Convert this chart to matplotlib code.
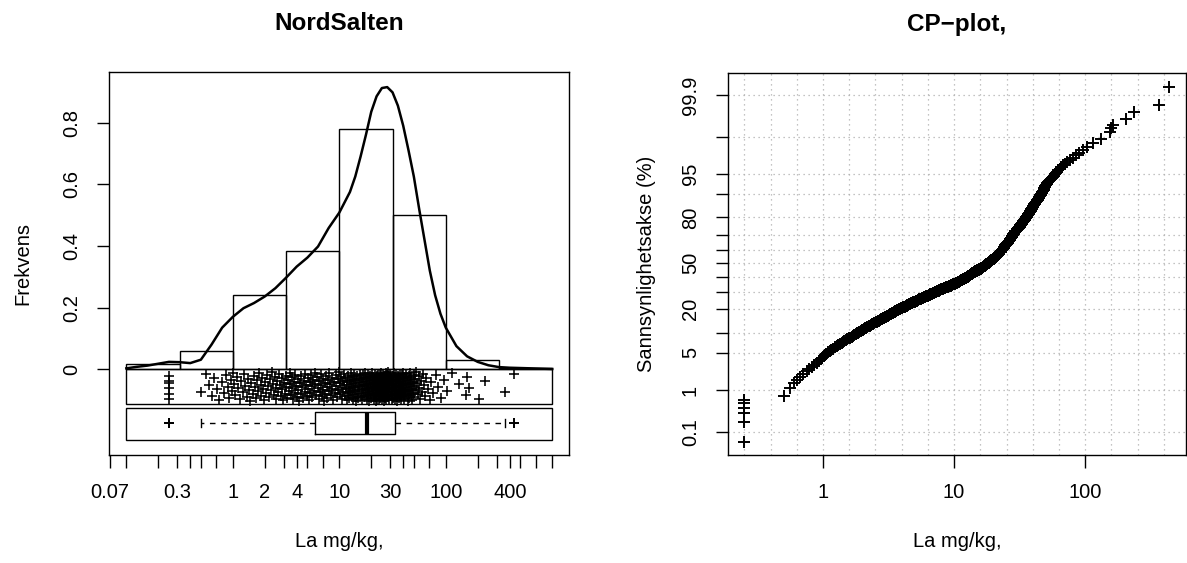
import matplotlib
matplotlib.use("Agg")
import matplotlib.pyplot as plt
from matplotlib.patches import Rectangle
import numpy as np
from statistics import NormalDist

plt.rcParams['font.family'] = ['Liberation Sans', 'DejaVu Sans']

# histogram, density scale, half-decade bins (mg/kg)
hist_edges = [0.1, 0.316, 1, 3.16, 10, 31.6, 100, 316, 1000]
hist_dens = [0.016, 0.059, 0.241, 0.384, 0.778, 0.499, 0.030, 0.004]

# density curve (x as log10 mg/kg)
dens_log10 = [-1.0, -0.9, -0.8, -0.7, -0.6, -0.5, -0.4, -0.3, -0.2, -0.1,
              0.0, 0.1, 0.2, 0.3, 0.4, 0.5, 0.6, 0.7, 0.8, 0.9,
              1.0, 1.1, 1.15, 1.2, 1.25, 1.3, 1.35, 1.4, 1.45, 1.5, 1.55, 1.6,
              1.65, 1.7, 1.75, 1.8, 1.85, 1.9, 1.95, 2.0, 2.1, 2.2, 2.3, 2.4, 2.5, 2.6,
              2.7, 2.8, 2.9, 3.0]
dens_y = [0.003, 0.008, 0.012, 0.018, 0.024, 0.023, 0.020, 0.031, 0.080, 0.135,
          0.170, 0.198, 0.215, 0.236, 0.263, 0.297, 0.333, 0.362, 0.398, 0.458,
          0.508, 0.575, 0.625, 0.690, 0.760, 0.835, 0.885, 0.912, 0.915, 0.898, 0.855, 0.790,
          0.710, 0.625, 0.520, 0.420, 0.320, 0.240, 0.180, 0.135, 0.075, 0.042, 0.024, 0.013,
          0.007, 0.005, 0.004, 0.003, 0.002, 0.001]

cp_pct = [0.052, 0.175, 0.294, 0.40, 0.51, 0.60, 0.75,
          1.125, 1.375, 1.625, 1.875, 2.125, 2.375, 2.625, 2.875, 3.125, 3.375,
          3.625, 3.875, 4.125, 4.375, 4.625, 4.875, 5.125, 5.375, 5.625, 5.875,
          6.125, 6.375, 6.625, 6.875, 7.125, 7.375, 7.625, 7.875, 8.125, 8.375,
          8.625, 8.875, 9.125, 9.375, 9.625, 9.875, 10.125, 10.375, 10.625, 10.875,
          11.125, 11.375, 11.625, 11.875, 12.125, 12.375, 12.625, 12.875, 13.125, 13.375,
          13.625, 13.875, 14.125, 14.375, 14.625, 14.875, 15.125, 15.375, 15.625, 15.875,
          16.125, 16.375, 16.625, 16.875, 17.125, 17.375, 17.625, 17.875, 18.125, 18.375,
          18.625, 18.875, 19.125, 19.375, 19.625, 19.875, 20.125, 20.375, 20.625, 20.875,
          21.125, 21.375, 21.625, 21.875, 22.125, 22.375, 22.625, 22.875, 23.125, 23.375,
          23.625, 23.875, 24.125, 24.375, 24.625, 24.875, 25.125, 25.375, 25.625, 25.875,
          26.125, 26.375, 26.625, 26.875, 27.125, 27.375, 27.625, 27.875, 28.125, 28.375,
          28.625, 28.875, 29.125, 29.375, 29.625, 29.875, 30.125, 30.375, 30.625, 30.875,
          31.125, 31.375, 31.625, 31.875, 32.125, 32.375, 32.625, 32.875, 33.125, 33.375,
          33.625, 33.875, 34.125, 34.375, 34.625, 34.875, 35.125, 35.375, 35.625, 35.875,
          36.125, 36.375, 36.625, 36.875, 37.125, 37.375, 37.625, 37.875, 38.125, 38.375,
          38.625, 38.875, 39.125, 39.375, 39.625, 39.875, 40.125, 40.375, 40.625, 40.875,
          41.125, 41.375, 41.625, 41.875, 42.125, 42.375, 42.625, 42.875, 43.125, 43.375,
          43.625, 43.875, 44.125, 44.375, 44.625, 44.875, 45.125, 45.375, 45.625, 45.875,
          46.125, 46.375, 46.625, 46.875, 47.125, 47.375, 47.625, 47.875, 48.125, 48.375,
          48.625, 48.875, 49.125, 49.375, 49.625, 49.875, 50.125, 50.375, 50.625, 50.875,
          51.125, 51.375, 51.625, 51.875, 52.125, 52.375, 52.625, 52.875, 53.125, 53.375,
          53.625, 53.875, 54.125, 54.375, 54.625, 54.875, 55.125, 55.375, 55.625, 55.875,
          56.125, 56.375, 56.625, 56.875, 57.125, 57.375, 57.625, 57.875, 58.125, 58.375,
          58.625, 58.875, 59.125, 59.375, 59.625, 59.875, 60.125, 60.375, 60.625, 60.875,
          61.125, 61.375, 61.625, 61.875, 62.125, 62.375, 62.625, 62.875, 63.125, 63.375,
          63.625, 63.875, 64.125, 64.375, 64.625, 64.875, 65.125, 65.375, 65.625, 65.875,
          66.125, 66.375, 66.625, 66.875, 67.125, 67.375, 67.625, 67.875, 68.125, 68.375,
          68.625, 68.875, 69.125, 69.375, 69.625, 69.875, 70.125, 70.375, 70.625, 70.875,
          71.125, 71.375, 71.625, 71.875, 72.125, 72.375, 72.625, 72.875, 73.125, 73.375,
          73.625, 73.875, 74.125, 74.375, 74.625, 74.875, 75.125, 75.375, 75.625, 75.875,
          76.125, 76.375, 76.625, 76.875, 77.125, 77.375, 77.625, 77.875, 78.125, 78.375,
          78.625, 78.875, 79.125, 79.375, 79.625, 79.875, 80.125, 80.375, 80.625, 80.875,
          81.125, 81.375, 81.625, 81.875, 82.125, 82.375, 82.625, 82.875, 83.125, 83.375,
          83.625, 83.875, 84.125, 84.375, 84.625, 84.875, 85.125, 85.375, 85.625, 85.875,
          86.125, 86.375, 86.625, 86.875, 87.125, 87.375, 87.625, 87.875, 88.125, 88.375,
          88.625, 88.875, 89.125, 89.375, 89.625, 89.875, 90.125, 90.375, 90.625, 90.875,
          91.125, 91.375, 91.625, 91.875, 92.125, 92.375, 92.625, 92.875, 93.125, 93.375,
          93.625, 93.875, 94.125, 94.375, 94.625, 94.875, 95.125, 95.375, 95.625, 95.875,
          96.125, 96.375, 96.625, 96.875, 97.125, 97.375, 97.625, 97.875, 98.125, 98.375,
          98.625, 98.875,
          99.2, 99.35, 99.45, 99.6, 99.72, 99.82, 99.94]
la_log10 = [-0.602, -0.602, -0.602, -0.602, -0.602, -0.602, -0.301,
            -0.255, -0.225, -0.198, -0.173, -0.149, -0.126, -0.105, -0.085, -0.066, -0.049,
            -0.033, -0.018, -0.005, 0.005, 0.015, 0.025, 0.037, 0.051, 0.064, 0.078,
            0.091, 0.104, 0.116, 0.129, 0.141, 0.152, 0.163, 0.174, 0.186, 0.197,
            0.208, 0.219, 0.230, 0.240, 0.250, 0.260, 0.269, 0.278, 0.287, 0.296,
            0.304, 0.313, 0.322, 0.331, 0.339, 0.348, 0.357, 0.366, 0.374, 0.383,
            0.392, 0.401, 0.409, 0.418, 0.427, 0.436, 0.444, 0.451, 0.459, 0.466,
            0.474, 0.481, 0.489, 0.496, 0.504, 0.511, 0.519, 0.526, 0.533, 0.539,
            0.546, 0.552, 0.559, 0.566, 0.574, 0.581, 0.588, 0.595, 0.602, 0.609,
            0.616, 0.623, 0.630, 0.637, 0.644, 0.651, 0.659, 0.666, 0.674, 0.681,
            0.689, 0.696, 0.703, 0.709, 0.716, 0.722, 0.728, 0.734, 0.741, 0.747,
            0.754, 0.761, 0.769, 0.776, 0.784, 0.791, 0.799, 0.806, 0.813, 0.819,
            0.826, 0.832, 0.838, 0.844, 0.851, 0.857, 0.863, 0.869, 0.876, 0.882,
            0.888, 0.894, 0.901, 0.907, 0.914, 0.921, 0.929, 0.936, 0.944, 0.951,
            0.959, 0.966, 0.973, 0.979, 0.986, 0.992, 0.998, 1.004, 1.011, 1.017,
            1.023, 1.028, 1.033, 1.038, 1.043, 1.048, 1.053, 1.058, 1.063, 1.068,
            1.073, 1.078, 1.083, 1.088, 1.093, 1.098, 1.102, 1.106, 1.109, 1.113,
            1.117, 1.121, 1.124, 1.128, 1.132, 1.136, 1.139, 1.143, 1.147, 1.151,
            1.154, 1.158, 1.163, 1.168, 1.173, 1.178, 1.183, 1.188, 1.193, 1.198,
            1.202, 1.206, 1.209, 1.213, 1.217, 1.221, 1.224, 1.228, 1.232, 1.236,
            1.239, 1.243, 1.247, 1.251, 1.254, 1.258, 1.261, 1.264, 1.266, 1.269,
            1.271, 1.274, 1.276, 1.279, 1.282, 1.286, 1.289, 1.293, 1.297, 1.301,
            1.304, 1.308, 1.311, 1.314, 1.316, 1.319, 1.321, 1.324, 1.326, 1.329,
            1.331, 1.334, 1.336, 1.339, 1.341, 1.344, 1.346, 1.349, 1.351, 1.354,
            1.356, 1.359, 1.361, 1.364, 1.366, 1.369, 1.371, 1.373, 1.375, 1.377,
            1.378, 1.380, 1.382, 1.384, 1.386, 1.388, 1.390, 1.392, 1.393, 1.395,
            1.397, 1.399, 1.401, 1.404, 1.406, 1.409, 1.411, 1.414, 1.416, 1.419,
            1.421, 1.423, 1.425, 1.427, 1.428, 1.430, 1.432, 1.434, 1.436, 1.438,
            1.440, 1.442, 1.443, 1.445, 1.447, 1.449, 1.451, 1.453, 1.455, 1.457,
            1.458, 1.460, 1.462, 1.464, 1.467, 1.470, 1.473, 1.476, 1.480, 1.483,
            1.486, 1.488, 1.491, 1.494, 1.496, 1.499, 1.501, 1.504, 1.506, 1.509,
            1.511, 1.514, 1.516, 1.519, 1.521, 1.524, 1.526, 1.529, 1.531, 1.534,
            1.536, 1.539, 1.541, 1.544, 1.546, 1.549, 1.551, 1.554, 1.556, 1.559,
            1.561, 1.564, 1.566, 1.569, 1.571, 1.574, 1.576, 1.579, 1.581, 1.584,
            1.586, 1.589, 1.591, 1.594, 1.596, 1.599, 1.601, 1.604, 1.606, 1.609,
            1.612, 1.616, 1.619, 1.623, 1.627, 1.631, 1.634, 1.638, 1.642, 1.645,
            1.648, 1.651, 1.654, 1.657, 1.660, 1.663, 1.667, 1.671, 1.674, 1.678,
            1.682, 1.686, 1.689, 1.693, 1.697, 1.701, 1.706, 1.710, 1.716, 1.723,
            1.730, 1.737, 1.744, 1.751, 1.759, 1.766, 1.775, 1.785, 1.795, 1.805,
            1.818, 1.833, 1.848, 1.863, 1.881, 1.904, 1.928, 1.953, 1.981, 2.014,
            2.060, 2.120,
            2.190, 2.200, 2.215, 2.314, 2.370, 2.560, 2.640]

# box plot
box_q1, box_med, box_q3 = 5.97, 18.4, 33.5
whisk_lo, whisk_hi = 0.50, 363

# axis ticks
hist_ticks = [0.07, 0.1, 0.2, 0.3, 0.4, 0.5, 0.7, 1, 2, 3, 4, 5, 7, 10, 20, 30, 40, 50,
              70, 100, 200, 300, 400, 500, 700, 1000]
hist_ticklabels = ['0.07', '0.3', '1', '2', '4', '10', '30', '100', '400']
dens_ticks = [0, 0.2, 0.4, 0.6, 0.8]
prob_ticks = [0.1, 1, 5, 10, 20, 30, 40, 50, 60, 70, 80, 90, 95, 99, 99.9]
prob_ticklabels = ['0.1', '1', '5', '20', '50', '80', '95', '99.9']
cp_xticks = [1, 10, 100]

la_mgkg = 10 ** np.array(la_log10)

FS = 14.5
W, H = 1187, 563
fig = plt.figure(figsize=(W / 100, H / 100), dpi=100)
ax1 = fig.add_axes([109.3 / W, 108 / H, 460 / W, 383 / H])
ax2 = fig.add_axes([727.6 / W, 108 / H, 458.4 / W, 382.3 / H])

# ---- left: histogram + density + strip + box plot
ax1.set_xscale('log')
ax1.bar(hist_edges[:-1], hist_dens, width=np.diff(hist_edges), align='edge',
        fill=False, edgecolor='black', linewidth=1.0)
ax1.plot(10 ** np.array(dens_log10), dens_y, color='black', lw=1.8)

x0, x1 = hist_edges[0], hist_edges[-1]
ax1.add_patch(Rectangle((x0, -0.1125), x1 - x0, 0.1125, fill=False, ec='black', lw=1.0))
ax1.add_patch(Rectangle((x0, -0.230), x1 - x0, 0.1055, fill=False, ec='black', lw=1.0))

n = len(la_mgkg)
jit = (np.arange(1, n + 1) * 0.6180339887) % 1.0
ax1.plot(la_mgkg, -0.0565 + (jit - 0.5) * 0.094, ls='none', marker='+',
         ms=7.5, mew=1.15, color='black')

# points beyond the whiskers (small tolerance for rounding of the read values)
fliers = [v for v in la_mgkg if v < whisk_lo * 0.99 or v > whisk_hi * 1.01]
stats = [dict(med=box_med, q1=box_q1, q3=box_q3, whislo=whisk_lo, whishi=whisk_hi,
              fliers=fliers)]
ax1.bxp(stats, positions=[-0.174], widths=0.072, orientation='horizontal',
        capwidths=0.027, manage_ticks=False,
        boxprops=dict(color='black', lw=1.0),
        whiskerprops=dict(color='black', lw=1.0, ls=(0, (4, 4))),
        capprops=dict(color='black', lw=1.0),
        medianprops=dict(color='black', lw=3.0, solid_capstyle='butt'),
        flierprops=dict(marker='+', markeredgecolor='black', ms=7.5, mew=1.4))

ax1.set_xlim(10 ** -1.16, 10 ** 3.16)
ax1.set_ylim(-0.278, 0.964)
ax1.set_xticks(hist_ticks)
ax1.set_xticklabels([('%g' % t) if ('%g' % t) in hist_ticklabels else '' for t in hist_ticks])
ax1.minorticks_off()
ax1.set_yticks(dens_ticks)
ax1.set_yticklabels(['%g' % t for t in dens_ticks], rotation=90, va='center')
ax1.set_title('NordSalten', fontsize=17.5, fontweight='bold', pad=30)
ax1.set_xlabel('La mg/kg,', fontsize=FS, labelpad=22)
ax1.set_ylabel('Frekvens', fontsize=FS, labelpad=22)

# ---- right: CP-plot on a normal probability scale
nd = NormalDist()
cp_z = [nd.inv_cdf(p / 100) for p in cp_pct]
tick_z = [nd.inv_cdf(p / 100) for p in prob_ticks]

ax2.set_xscale('log')
for gx in 10 ** np.arange(-0.6, 2.61, 0.2):
    ax2.axvline(gx, color='#b0b0b0', lw=0.9, ls=(0, (1, 3)), zorder=0)
for gz in tick_z:
    ax2.axhline(gz, color='#b0b0b0', lw=0.9, ls=(0, (1, 3)), zorder=0)
ax2.plot(la_mgkg, cp_z, ls='none', marker='+', ms=9, mew=1.4, color='black')
ax2.set_xlim(10 ** -0.728, 10 ** 2.769)
ax2.set_ylim(-3.52, 3.50)
ax2.set_xticks(cp_xticks)
ax2.set_xticklabels(['%g' % t for t in cp_xticks])
ax2.minorticks_off()
ax2.set_yticks(tick_z)
ax2.set_yticklabels([('%g' % p) if ('%g' % p) in prob_ticklabels else '' for p in prob_ticks],
                    rotation=90, va='center')
ax2.set_title('CP\u2212plot,', fontsize=17.5, fontweight='bold', pad=30)
ax2.set_xlabel('La mg/kg,', fontsize=FS, labelpad=22)
ax2.set_ylabel('Sannsynlighetsakse (%)', fontsize=FS, labelpad=18)

for ax in (ax1, ax2):
    ax.tick_params(direction='out', length=9, width=1.0, labelsize=FS, pad=11)
    for s in ax.spines.values():
        s.set_linewidth(1.0)

fig.savefig('out.png', dpi=100)
